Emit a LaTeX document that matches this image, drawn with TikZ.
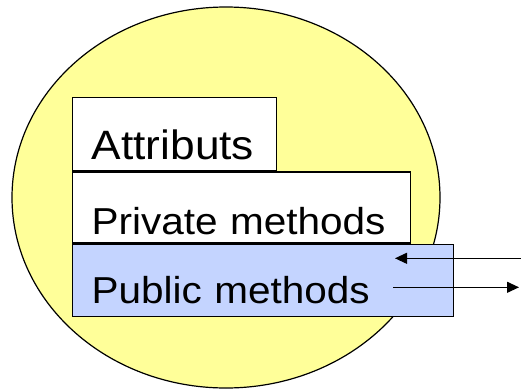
\documentclass[tikz,border=0pt]{standalone}
\usepackage{fontspec}
\setmainfont{Liberation Sans}
\newfontfamily\layerfont[FakeStretch=1.08]{Liberation Sans}
\usepackage{tikz}
\usetikzlibrary{shapes,arrows.meta,positioning}
\definecolor{objyellow}{RGB}{255,255,153}
\definecolor{pubblue}{RGB}{196,212,255}
\tikzstyle{object} = [ellipse, draw=black, line width=1.2pt, fill=objyellow, minimum width=428pt, minimum height=381pt, inner sep=0pt]
\tikzstyle{layer} = [rectangle, draw=black, line width=1.3pt, fill=white, inner sep=0pt, align=left, execute at begin node={\hspace*{19pt}}]
\tikzstyle{arrow} = [line width=1.1pt,-{Triangle[length=12pt,width=11pt]}]

\begin{document}
\begin{tikzpicture}[x=1pt,y=-1pt]
\useasboundingbox (0,0) rectangle (521,389);
% the object
\node[object] (obj) at (226,197.5) {};
% the three layers
\node[layer, anchor=north west, text width=204pt, text height=62pt, text depth=11pt, font=\layerfont\fontsize{41}{41}\selectfont] (attr) at (72,97) {Attributs};
\node[layer, below=0pt of attr.south west, anchor=north west, text width=338pt, text height=63pt, text depth=8pt, font=\layerfont\fontsize{37.5}{38}\selectfont] (priv) {Private methods};
\node[layer, below=0pt of priv.south west, anchor=north west, fill=pubblue, text width=380.5pt, text height=59pt, text depth=13.5pt, font=\layerfont\fontsize{37.5}{38}\selectfont] (pub) {Public methods};
% helper coordinates
\coordinate (in-start) at (521,258.3);
\coordinate (in-tip) at (395,258.3);
\coordinate (out-start) at (393,287.3);
\coordinate (out-tip) at (519,287.3);
\draw[arrow] (in-start) -- (in-tip);
\draw[arrow] (out-start) -- (out-tip);
\end{tikzpicture}
\end{document}
